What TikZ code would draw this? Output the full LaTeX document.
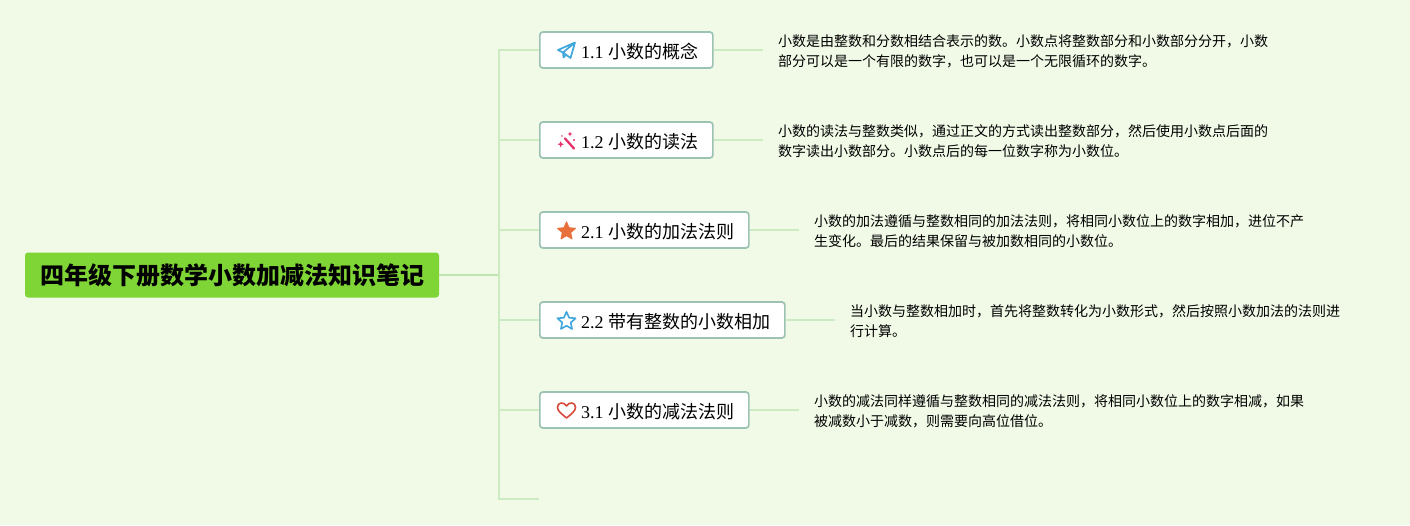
\documentclass[tikz,border=0pt]{standalone}
\usepackage{fontspec}
\setmainfont{Liberation Serif}
\newfontfamily\cjk{Noto Sans CJK SC}
\definecolor{bgc}{HTML}{F1FAE7}
\definecolor{rootc}{HTML}{80D536}
\definecolor{linec}{HTML}{CDEBC3}
\definecolor{rootl}{HTML}{BDE6AE}
\definecolor{boxl}{HTML}{9CC2B3}
\definecolor{bluei}{HTML}{3FA7DC}
\definecolor{pinki}{HTML}{E8306A}
\definecolor{orgi}{HTML}{E8703A}
\definecolor{redi}{HTML}{D9493C}
\tikzset{
 rootnode/.style={fill=rootc,rounded corners=3pt,minimum height=45pt,minimum width=414pt,inner sep=0pt,font=\fontsize{24}{28}\selectfont\cjk\bfseries,text=black},
 topicbox/.style={draw=boxl,line width=1.7pt,fill=white,rounded corners=3pt,minimum height=36pt,inner sep=0pt,anchor=west,text=black},
 toplabel/.style={anchor=west,inner sep=0pt,font=\fontsize{18}{22}\selectfont,text=black},
 detail/.style={anchor=west,align=left,inner xsep=15pt,inner ysep=0pt,font=\fontsize{14}{20}\selectfont\cjk,text=black},
 branch/.style={draw=linec,line width=1.6pt},
 rootbranch/.style={draw=rootl,line width=1.6pt},
}
\begin{document}
\begin{tikzpicture}[x=1pt,y=-1pt]
\fill[bgc] (0,0) rectangle (1410,525);
\useasboundingbox (0,0) rectangle (1410,525);
\node[rootnode] (root) at (232,275) {四年级下册数学小数加减法知识笔记};
\coordinate (hub) at (499,275);
\node[topicbox,minimum width=173pt] (n1) at (539,50) {};
\node[topicbox,minimum width=173pt] (n2) at (539,140) {};
\node[topicbox,minimum width=209pt] (n3) at (539,230) {};
\node[topicbox,minimum width=245pt] (n4) at (539,320) {};
\node[topicbox,minimum width=209pt] (n5) at (539,410) {};
\coordinate (n6) at (539,499);
\foreach \n/\a/\b/\y in {t1/1.1/小数的概念/52,t2/1.2/小数的读法/142,t3/2.1/小数的加法法则/232,t4/2.2/带有整数的小数相加/322,t5/3.1/小数的减法法则/412}{
 \node[toplabel] (\n) at (581,\y) {\a\hspace{4.5pt}{\cjk \b}};
}
\node[detail] (d1) at (763,51) {小数是由整数和分数相结合表示的数。小数点将整数部分和小数部分分开，小数\\部分可以是一个有限的数字，也可以是一个无限循环的数字。};
\node[detail] (d2) at (763,141) {小数的读法与整数类似，通过正文的方式读出整数部分，然后使用小数点后面的\\数字读出小数部分。小数点后的每一位数字称为小数位。};
\node[detail] (d3) at (799,231) {小数的加法遵循与整数相同的加法法则，将相同小数位上的数字相加，进位不产\\生变化。最后的结果保留与被加数相同的小数位。};
\node[detail] (d4) at (835,321) {当小数与整数相加时，首先将整数转化为小数形式，然后按照小数加法的法则进\\行计算。};
\node[detail] (d5) at (799,411) {小数的减法同样遵循与整数相同的减法法则，将相同小数位上的数字相减，如果\\被减数小于减数，则需要向高位借位。};
\draw[rootbranch] (root.east) -- (hub);
\foreach \n in {n1,n2,n3,n4,n5,n6}{\draw[branch] (hub) |- (\n);}
\foreach \i in {1,...,5}{\draw[branch] (n\i.east) -- (n\i.east -| d\i.west);}
% icons
\draw[bluei,line width=1.7pt,line join=round] (575,42.5) -- (558,50) -- (563,52.5) -- (575,42.5) -- (570.5,58) -- (563,52.5) -- (563.5,57.5) -- (566,55);
\draw[pinki,line width=2.3pt,line cap=round] (565,138.5) -- (574,148.5);
\fill[pinki] (560.7,141) -- (561.6,143.3) -- (564,144.2) -- (561.6,145.1) -- (560.7,147.5) -- (559.8,145.1) -- (557.5,144.2) -- (559.8,143.3) -- cycle;
\fill[pinki] (570,131.5) -- (570.7,133.3) -- (572.5,134) -- (570.7,134.7) -- (570,136.5) -- (569.3,134.7) -- (567.5,134) -- (569.3,133.3) -- cycle;
\fill[pinki] (574,140) circle (1.1pt) (562,136) circle (0.9pt);
\def\starpts{(566.5,221.8) -- (569.1,227.7) -- (575.6,228.3) -- (570.7,232.6) -- (572.1,239) -- (566.5,235.7) -- (560.9,239) -- (562.3,232.6) -- (557.4,228.3) -- (563.9,227.7) -- cycle}
\fill[orgi,draw=orgi,line join=round,line width=.8pt] \starpts;
\begin{scope}[yshift=-90pt]
\draw[bluei,line width=1.6pt,line join=round] \starpts;
\end{scope}
\draw[redi,line width=1.6pt,line join=round] (566.5,418) .. controls (561,413.5) and (557.5,410.5) .. (557.5,407.5) .. controls (557.5,402) and (564,401.5) .. (566.5,406) .. controls (569,401.5) and (575.5,402) .. (575.5,407.5) .. controls (575.5,410.5) and (572,413.5) .. (566.5,418) -- cycle;
\end{tikzpicture}
\end{document}
